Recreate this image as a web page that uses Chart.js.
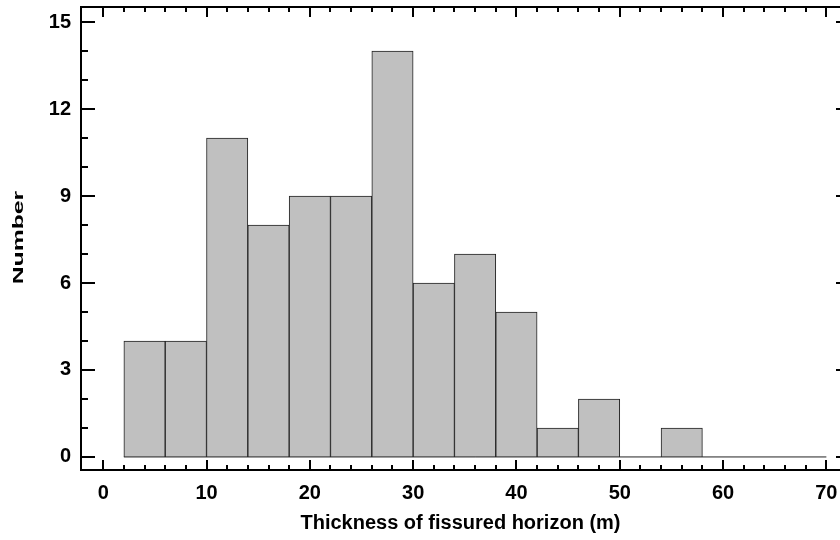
<!DOCTYPE html>
<html>
<head>
<meta charset="utf-8">
<script src="https://cdn.jsdelivr.net/npm/chart.js@4.4.1/dist/chart.umd.min.js"></script>
<style>
  html, body { margin: 0; padding: 0; background: #fff; }
  #wrap { width: 840px; height: 540px; }
</style>
</head>
<body>
<div id="wrap"><canvas id="myChart"></canvas></div>
<script>
// histogram bins (centre of each 4 m wide bin) and counts
const binCenters = [4, 8, 12, 16, 20, 24, 28, 32, 36, 40, 44, 48, 52, 56, 60, 64, 68];
const counts = [4, 4, 11, 8, 9, 9, 14, 6, 7, 5, 1, 2, 0, 1, 0, 0, 0];
const baseline = [{ x: 2, y: 0 }, { x: 70, y: 0 }];
const xTicks = [0, 10, 20, 30, 40, 50, 60, 70];
const yTicks = [0, 3, 6, 9, 12, 15];

const FONT = '"Liberation Sans", Arial, sans-serif';

// frame + inward ticks on all four sides, and the stretched y title
const frameTicks = {
    id: 'frameTicks',
    afterDraw(chart) {
        const { ctx, chartArea: a, scales: { x, y } } = chart;
        const right = a.right + 10; // frame runs slightly past the canvas edge
        ctx.save();
        ctx.strokeStyle = '#000';
        ctx.lineWidth = 2;
        ctx.strokeRect(a.left, a.top, right - a.left, a.bottom - a.top);
        ctx.beginPath();
        for (let v = 0; v <= 70; v += 2) {
            const px = Math.round(x.getPixelForValue(v));
            const len = v % 10 === 0 ? 10 : 5;
            ctx.moveTo(px, a.bottom); ctx.lineTo(px, a.bottom - len);
            ctx.moveTo(px, a.top); ctx.lineTo(px, a.top + len);
        }
        for (let v = 0; v <= 15; v++) {
            const py = Math.round(y.getPixelForValue(v));
            const len = v % 3 === 0 ? 14 : 7;
            ctx.moveTo(a.left, py); ctx.lineTo(a.left + len, py);
            ctx.moveTo(right, py); ctx.lineTo(right - len, py);
        }
        ctx.stroke();

        // y axis title
        ctx.translate(19, (a.top + a.bottom) / 2 - 1);
        ctx.rotate(-Math.PI / 2);
        ctx.scale(1.65, 1);
        ctx.fillStyle = '#000';
        ctx.font = 'bold 15px ' + FONT;
        ctx.textAlign = 'center';
        ctx.textBaseline = 'middle';
        ctx.fillText('Number', 0, 0);
        ctx.restore();
    }
};

Chart.defaults.color = '#000';
Chart.defaults.font.family = FONT;

const ctx = document.getElementById('myChart').getContext('2d');
const myChart = new Chart(ctx, {
    type: 'bar',
    data: {
        datasets: [{
            type: 'line',
            data: baseline,
            borderColor: '#222',
            borderWidth: 1,
            pointRadius: 0,
            order: 0
        }, {
            data: binCenters.map((c, i) => ({ x: c, y: counts[i] })),
            backgroundColor: '#c0c0c0',
            borderColor: '#222',
            borderWidth: 1,
            barPercentage: 1,
            categoryPercentage: 1,
            order: 1
        }]
    },
    options: {
        responsive: true,
        maintainAspectRatio: false,
        animation: false,
        layout: { padding: { left: 0, top: 7, right: 0, bottom: 0 } },
        scales: {
            x: {
                type: 'linear',
                offset: false,
                min: -2.15,
                max: 71.32,
                afterFit: (s) => { s.height = 70; s.paddingLeft = 0; s.paddingRight = 0; },
                afterBuildTicks: (s) => { s.ticks = xTicks.map(v => ({ value: v })); },
                grid: { display: false, drawTicks: false },
                border: { display: false },
                ticks: { padding: 11, font: { size: 20, weight: 'bold' } },
                title: {
                    display: true,
                    text: 'Thickness of fissured horizon (m)',
                    font: { size: 20, weight: 'bold' },
                    padding: { top: 0, bottom: 5 }
                }
            },
            y: {
                min: -0.45,
                max: 15.52,
                afterFit: (s) => { s.width = 81; s.paddingTop = 0; s.paddingBottom = 0; },
                afterBuildTicks: (s) => { s.ticks = yTicks.map(v => ({ value: v })); },
                grid: { display: false, drawTicks: false },
                border: { display: false },
                ticks: { padding: 10, font: { size: 20, weight: 'bold' } }
            }
        },
        plugins: {
            legend: { display: false },
            tooltip: { enabled: false }
        }
    },
    plugins: [frameTicks]
});
</script>
</body>
</html>
